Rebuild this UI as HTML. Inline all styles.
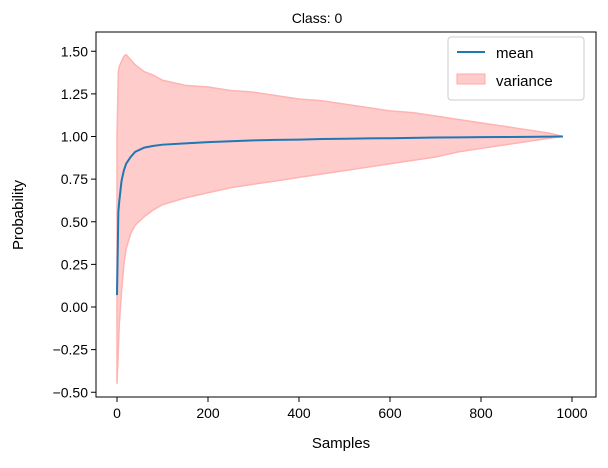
<!DOCTYPE html>
<html><head><meta charset="utf-8"><style>
body{margin:0;background:#fff;}
svg{font-family:"Liberation Sans",sans-serif;}
</style></head><body>
<svg id="chart" width="608" height="463">
<text x="317" y="23" font-size="14" text-anchor="middle">Class: 0</text>
<text x="341" y="448" font-size="15" text-anchor="middle">Samples</text>
<text transform="translate(23,215) rotate(-90)" font-size="15" text-anchor="middle">Probability</text>
<g id="plot"></g>
<rect x="96" y="32" width="500" height="365" fill="none" stroke="#000" stroke-width="1"/>
<g>
<rect x="448" y="37" width="136" height="63" rx="3" fill="#fff" fill-opacity="0.85" stroke="#ccc"/>
<line x1="457" y1="52" x2="485" y2="52" stroke="#1f77b4" stroke-width="2"/>
<text x="496" y="58" font-size="15">mean</text>
<rect x="457" y="74" width="28" height="10" fill="#ffcccc" stroke="#ffaaaa"/>
<text x="496" y="86" font-size="15">variance</text>
</g>
</svg>
<script>
const xs   =[0,3,5,10,15,20,30,40,60,80,100,150,200,250,300,350,400,450,500,550,600,650,700,750,800,850,900,950,980];
const mean =[0.07,0.56,0.62,0.74,0.80,0.84,0.88,0.91,0.935,0.945,0.952,0.96,0.967,0.972,0.977,0.98,0.982,0.985,0.987,0.989,0.99,0.992,0.994,0.995,0.996,0.997,0.998,0.999,1.0];
const upper=[1.0,1.38,1.41,1.44,1.47,1.48,1.45,1.42,1.38,1.36,1.33,1.30,1.29,1.27,1.26,1.24,1.22,1.21,1.19,1.17,1.15,1.14,1.12,1.10,1.08,1.06,1.04,1.02,1.0];
const lower=[-0.45,-0.25,-0.1,0.09,0.25,0.34,0.43,0.48,0.53,0.57,0.60,0.64,0.67,0.70,0.72,0.74,0.76,0.78,0.80,0.82,0.84,0.86,0.88,0.91,0.93,0.95,0.97,0.99,1.0];
const xTicks=[0,200,400,600,800,1000];
const yTicks=[-0.5,-0.25,0,0.25,0.5,0.75,1.0,1.25,1.5];
const X=v=>117+v*0.455, Y=v=>136.5-(v-1)*170.5;
const NS="http://www.w3.org/2000/svg", g=document.getElementById('plot');
function mk(t,a){const e=document.createElementNS(NS,t);for(const k in a)e.setAttribute(k,a[k]);g.appendChild(e);return e;}
let d=xs.map((x,i)=>(i?'L':'M')+X(x)+','+Y(upper[i])).join('');
for(let i=xs.length-1;i>=0;i--)d+='L'+X(xs[i])+','+Y(lower[i]);
const band=mk('path',{d:d+'Z',fill:'#ffcccc',stroke:'#ffb3b3','stroke-width':1.5});


const ln=mk('path',{d:xs.map((x,i)=>(i?'L':'M')+X(x)+','+Y(mean[i])).join(''),fill:'none',stroke:'#1f77b4','stroke-width':2});


xTicks.forEach(t=>{
 const tk=mk('line',{x1:X(t),x2:X(t),y1:397,y2:402,stroke:'#000'});
 
 
 const tx=mk('text',{x:X(t),y:418,'font-size':14,'text-anchor':'middle'});tx.textContent=t;
 
 
});
yTicks.forEach(t=>{
 const tk=mk('line',{x1:91,x2:96,y1:Y(t),y2:Y(t),stroke:'#000'});
 
 
 const tx=mk('text',{x:88,y:Y(t)+5,'font-size':14,'text-anchor':'end'});tx.textContent=t.toFixed(2).replace('-','\u2212');
 
 
});
</script>
</body></html>
